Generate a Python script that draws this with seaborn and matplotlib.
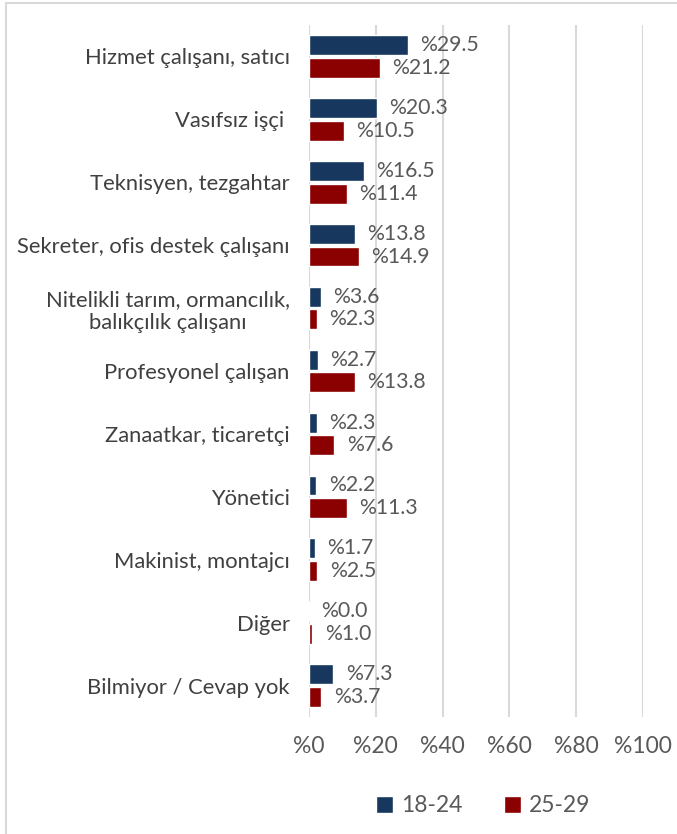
import pandas as pd
import matplotlib.pyplot as plt
import matplotlib.ticker as mticker
from matplotlib.patches import Rectangle
import seaborn as sns

# Meslek grupları ve yaş gruplarına göre oranlar (%)
meslekler = [
    "Hizmet çalışanı, satıcı",
    "Vasıfsız işçi ",
    "Teknisyen, tezgahtar",
    "Sekreter, ofis destek çalışanı",
    "Nitelikli tarım, ormancılık,\nbalıkçılık çalışanı",
    "Profesyonel çalışan",
    "Zanaatkar, ticaretçi",
    "Yönetici",
    "Makinist, montajcı",
    "Diğer",
    "Bilmiyor / Cevap yok",
]
yas_18_24 = [29.5, 20.3, 16.5, 13.8, 3.6, 2.7, 2.3, 2.2, 1.7, 0.0, 7.3]
yas_25_29 = [21.2, 10.5, 11.4, 14.9, 2.3, 13.8, 7.6, 11.3, 2.5, 1.0, 3.7]
gruplar = ["18-24", "25-29"]
x_ticks = [0, 20, 40, 60, 80, 100]

df = pd.DataFrame({
    "meslek": meslekler * 2,
    "oran": yas_18_24 + yas_25_29,
    "yas": [gruplar[0]] * len(meslekler) + [gruplar[1]] * len(meslekler),
})

sns.set_style("white")
plt.rcParams["font.family"] = ["Lato", "DejaVu Sans"]

fig = plt.figure(figsize=(6.77, 8.34), dpi=100)
ax = fig.add_axes([309 / 677, 1 - 717 / 834, (643 - 309) / 677, (717 - 25) / 834])

renkler = {"18-24": "#17375E", "25-29": "#8B0000"}
sns.barplot(data=df, y="meslek", x="oran", hue="yas", orient="h",
            palette=renkler, saturation=1, width=0.72, gap=0.12, ax=ax,
            legend=True)

for cont in ax.containers:
    vals = [p.get_width() for p in cont]
    ax.bar_label(cont, labels=[f"%{v:.1f}" for v in vals], padding=9,
                 fontsize=15.3, color="#595959")

ax.set_xlim(0, 100)
ax.xaxis.set_major_locator(mticker.FixedLocator(x_ticks))
ax.set_xticklabels([f"%{t}" for t in x_ticks])
ax.grid(axis="x", color="#D9D9D9", linewidth=1.5)
ax.grid(axis="y", visible=False)
ax.set_axisbelow(True)
for s in ax.spines.values():
    s.set_visible(False)
ax.set_xlabel("")
ax.set_ylabel("")
ax.tick_params(axis="x", length=0, pad=14, labelsize=16.5, labelcolor="#595959")
ax.tick_params(axis="y", length=0, pad=14, labelsize=15.8, labelcolor="#404040")
for lbl in ax.get_yticklabels():
    lbl.set_multialignment("center")

handles, labels = ax.get_legend_handles_labels()
ax.legend(handles, labels, loc="center", bbox_to_anchor=(483 / 677, 1 - 806 / 834),
          bbox_transform=fig.transFigure, ncol=2, frameon=False,
          handlelength=0.75, handleheight=0.75, handletextpad=0.35,
          columnspacing=1.8, fontsize=16.5, labelcolor="#595959")

# dış çerçeve
fig.patches.append(Rectangle((6 / 677, -0.1), 2, 1 - 3 / 834 + 0.1,
                             transform=fig.transFigure, fill=False,
                             edgecolor="#D9D9D9", linewidth=1.5))

fig.savefig("out.png", dpi=100)
